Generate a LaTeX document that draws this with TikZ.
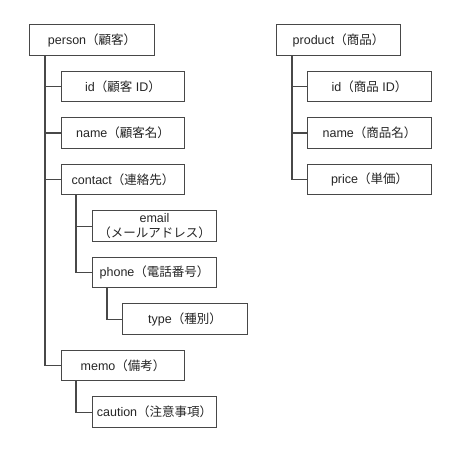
\documentclass[tikz,border=0pt]{standalone}
\usepackage{fontspec}
\setmainfont{Liberation Sans}
\newfontfamily\cjkfont{Noto Sans CJK JP}
\newcommand{\jp}[1]{{\cjkfont #1}}
\definecolor{boxline}{HTML}{484848}
\definecolor{conline}{HTML}{484848}
\begin{document}
\begin{tikzpicture}[x=1pt,y=-1pt,
  box/.style={draw=boxline, line width=1.1pt, anchor=north west, inner sep=0pt,
    font=\fontsize{12.5}{15}\selectfont, text=black!85, align=center},
  con/.style={draw=conline, line width=1.1pt}]
\useasboundingbox[fill=white] (0,0) rectangle (460,462);
% person tree
\node[box, minimum width=125pt, minimum height=31pt] (person) at (29,24) {person\jp{（顧客）}};
\node[box, minimum width=123pt, minimum height=30pt] (id) at (61,71) {id\jp{（顧客} ID\jp{）}};
\node[box, minimum width=123pt, minimum height=31pt] (name) at (61,117) {name\jp{（顧客名）}};
\node[box, minimum width=123pt, minimum height=30pt] (contact) at (61,164) {contact\jp{（連絡先）}};
\node[box, minimum width=124pt, minimum height=31pt] (email) at (92,210) {email\\\jp{（メールアドレス）}};
\node[box, minimum width=124pt, minimum height=30pt] (phone) at (92,257) {phone\jp{（電話番号）}};
\node[box, minimum width=125pt, minimum height=31pt] (type) at (122,303) {type\jp{（種別）}};
\node[box, minimum width=123pt, minimum height=30pt] (memo) at (61,350) {memo\jp{（備考）}};
\node[box, minimum width=124pt, minimum height=31pt] (caution) at (92,396) {caution\jp{（注意事項）}};
% product tree
\node[box, minimum width=124pt, minimum height=31pt] (product) at (276,24) {product\jp{（商品）}};
\node[box, minimum width=124pt, minimum height=30pt] (pid) at (307,71) {id\jp{（商品} ID\jp{）}};
\node[box, minimum width=124pt, minimum height=31pt] (pname) at (307,117) {name\jp{（商品名）}};
\node[box, minimum width=124pt, minimum height=30pt] (price) at (307,164) {price\jp{（単価）}};
% connectors
\foreach \c in {id,name,contact,memo}
  \draw[con] ([xshift=16pt]person.south west) |- (\c.west);
\foreach \c in {email,phone}
  \draw[con] ([xshift=15pt]contact.south west) |- (\c.west);
\draw[con] ([xshift=15pt]phone.south west) |- (type.west);
\draw[con] ([xshift=15pt]memo.south west) |- (caution.west);
\foreach \c in {pid,pname,price}
  \draw[con] ([xshift=16pt]product.south west) |- (\c.west);
\end{tikzpicture}
\end{document}
